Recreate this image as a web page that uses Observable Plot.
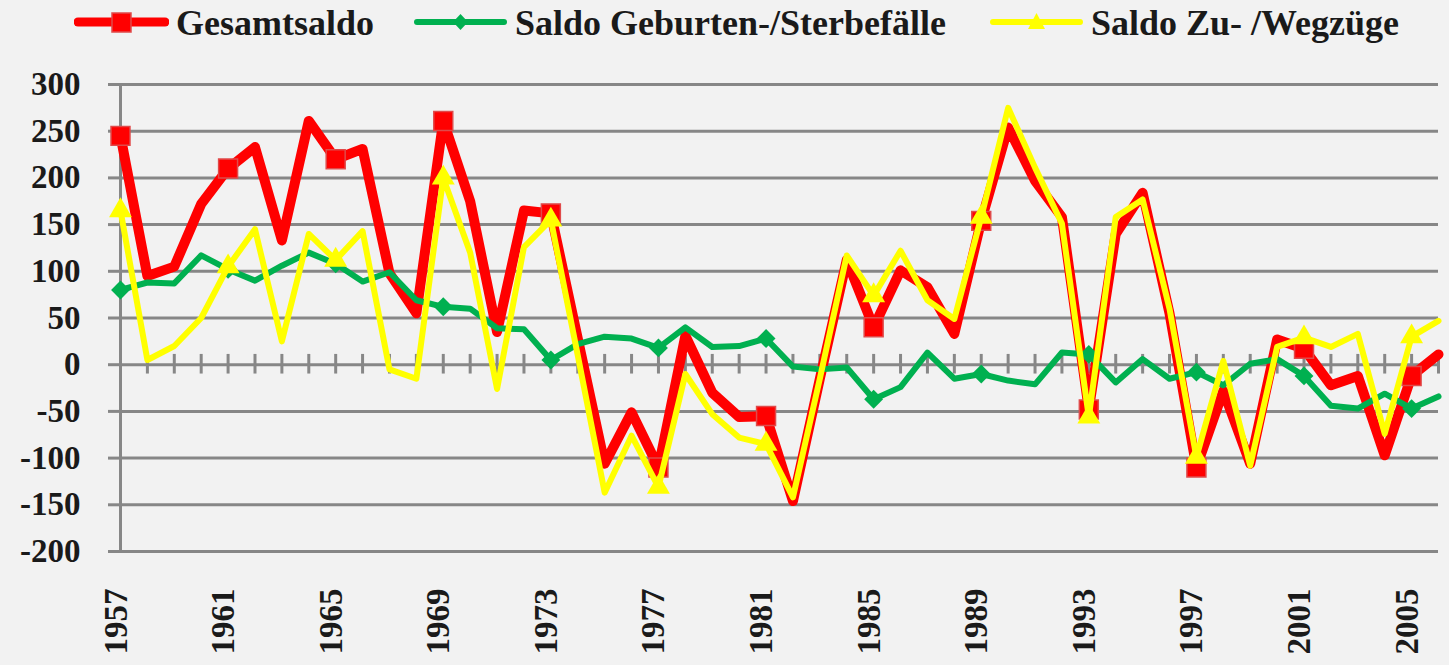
<!DOCTYPE html>
<html>
<head>
<meta charset="utf-8">
<script src="https://cdn.jsdelivr.net/npm/d3@7"></script>
<script src="https://cdn.jsdelivr.net/npm/@observablehq/plot@0.6"></script>
<style>
html, body { margin: 0; padding: 0; background: #f2f2f2; width: 1449px; height: 665px; overflow: hidden; }
#legend { position: relative; height: 46px; width: 1449px; font-family: "Liberation Serif", "Times New Roman", serif; font-weight: bold; font-size: 36px; color: #1a1a1a; }
#legend .sw { position: absolute; top: 10px; }
#legend .lt { position: absolute; top: 5px; line-height: 36px; white-space: nowrap; }
#chart svg { display: block; }
</style>
</head>
<body>
<div id="legend"></div>
<div id="chart"></div>
<script>
// ---- data ----
const years = [1957,1958,1959,1960,1961,1962,1963,1964,1965,1966,1967,1968,1969,1970,1971,1972,1973,1974,1975,1976,1977,1978,1979,1980,1981,1982,1983,1984,1985,1986,1987,1988,1989,1990,1991,1992,1993,1994,1995,1996,1997,1998,1999,2000,2001,2002,2003,2004,2005,2006];

const gesamtsaldo = [245,95,105,172,210,233,133,261,220,231,98,55,261,175,35,165,162,28,-106,-51,-110,31,-30,-56,-55,-146,-15,112,40,101,83,33,154,254,197,158,-48,140,184,55,-110,-28,-106,27,17,-22,-12,-97,-12,11];

const saldoGeburten = [80,88,87,117,102,90,106,120,108,89,99,69,62,60,39,38,5,22,30,28,18,40,19,20,28,-2,-5,-3,-37,-24,13,-15,-10,-17,-21,13,11,-19,6,-15,-8,-22,1,6,-12,-44,-47,-31,-47,-34];

const saldoZuWeg = [165,5,20,50,105,145,25,140,112,143,-5,-15,200,120,-26,126,155,10,-137,-76,-131,-10,-53,-78,-85,-142,-15,117,74,122,69,49,158,275,211,151,-56,158,177,60,-99,4,-108,19,29,19,33,-74,30,47];

const seriesNames = ["Gesamtsaldo", "Saldo Geburten-/Sterbefälle", "Saldo Zu- /Wegzüge"];
const seriesColors = ["#ff0000", "#00b050", "#ffff00"];
const yTicks = [-200,-150,-100,-50,0,50,100,150,200,250,300];
const labelYears = [1957,1961,1965,1969,1973,1977,1981,1985,1989,1993,1997,2001,2005];

// ---- legend ----
const legend = document.getElementById("legend");
const legendItems = [
  {name: seriesNames[0], color: seriesColors[0], sx: 74, tx: 176, marker: "square"},
  {name: seriesNames[1], color: seriesColors[1], sx: 413, tx: 515, marker: "diamond"},
  {name: seriesNames[2], color: seriesColors[2], sx: 989, tx: 1091, marker: "triangle"}
];
for (const it of legendItems) {
  let m = "";
  if (it.marker === "square") m = `<rect x="38" y="3" width="19" height="19" fill="#ff0000" stroke="#e04a4a" stroke-width="1.5"/>`;
  if (it.marker === "diamond") m = `<path d="M47.5,4 L55,12 L47.5,20 L40,12 Z" fill="${it.color}"/>`;
  if (it.marker === "triangle") m = `<path d="M47.5,3 L56,19 L39,19 Z" fill="${it.color}"/>`;
  const lw = it.marker === "square" ? 9 : 6;
  legend.insertAdjacentHTML("beforeend",
    `<svg class="sw" style="left:${it.sx}px" width="95" height="24"><line x1="4" y1="12" x2="91" y2="12" stroke="${it.color}" stroke-width="${lw}" stroke-linecap="round"/>${m}</svg>` +
    `<span class="lt" style="left:${it.tx}px">${it.name}</span>`);
}

// ---- chart ----
const rows = (vals) => years.map((y, i) => ({year: y, value: vals[i]}));
const red = rows(gesamtsaldo), green = rows(saldoGeburten), yellow = rows(saldoZuWeg);
const isMarker = (d) => labelYears.includes(d.year);
const grid = "#878787";

const chart = Plot.plot({
  width: 1449,
  height: 619,
  marginLeft: 120,
  marginRight: 11,
  marginTop: 38,
  marginBottom: 114,
  x: {domain: [1957, 2006], axis: null},
  y: {domain: [-200, 300], axis: null},
  style: {background: "#f2f2f2", fontFamily: "Liberation Serif, Times New Roman, serif", color: "#1a1a1a"},
  marks: [
    Plot.ruleY(yTicks, {stroke: grid, strokeWidth: 3}),
    Plot.axisY(yTicks, {tickSize: 12, tickPadding: 28, stroke: grid, strokeWidth: 3, fill: "#1a1a1a", fontSize: 33, fontWeight: "bold", tickFormat: (d) => String(d), label: null}),
    Plot.ruleX([years[0]], {stroke: grid, strokeWidth: 3}),
    Plot.ruleX(years.slice(1), {x: (d) => d, y1: -10, y2: 11, stroke: grid, strokeWidth: 3}),
    Plot.text(labelYears, {x: (d) => d, frameAnchor: "bottom", dy: 37, dx: 6, rotate: -90, textAnchor: "end", text: (d) => String(d), fontSize: 33, fontWeight: "bold", fill: "#1a1a1a"}),
    Plot.line(red, {x: "year", y: "value", stroke: seriesColors[0], strokeWidth: 10, strokeLinejoin: "round", strokeLinecap: "round"}),
    Plot.dot(red.filter(isMarker), {x: "year", y: "value", symbol: "square", r: 10.7, fill: "#ff0000", stroke: "#e04a4a", strokeWidth: 1.5}),
    Plot.line(green, {x: "year", y: "value", stroke: seriesColors[1], strokeWidth: 6, strokeLinejoin: "round", strokeLinecap: "round"}),
    Plot.dot(green.filter(isMarker), {x: "year", y: "value", symbol: "diamond2", r: 8.5, fill: seriesColors[1]}),
    Plot.line(yellow, {x: "year", y: "value", stroke: seriesColors[2], strokeWidth: 6, strokeLinejoin: "round", strokeLinecap: "round"}),
    Plot.dot(yellow.filter(isMarker), {x: "year", y: "value", symbol: "triangle", r: 8.5, fill: seriesColors[2]})
  ]
});
document.getElementById("chart").appendChild(chart);
</script>
</body>
</html>
